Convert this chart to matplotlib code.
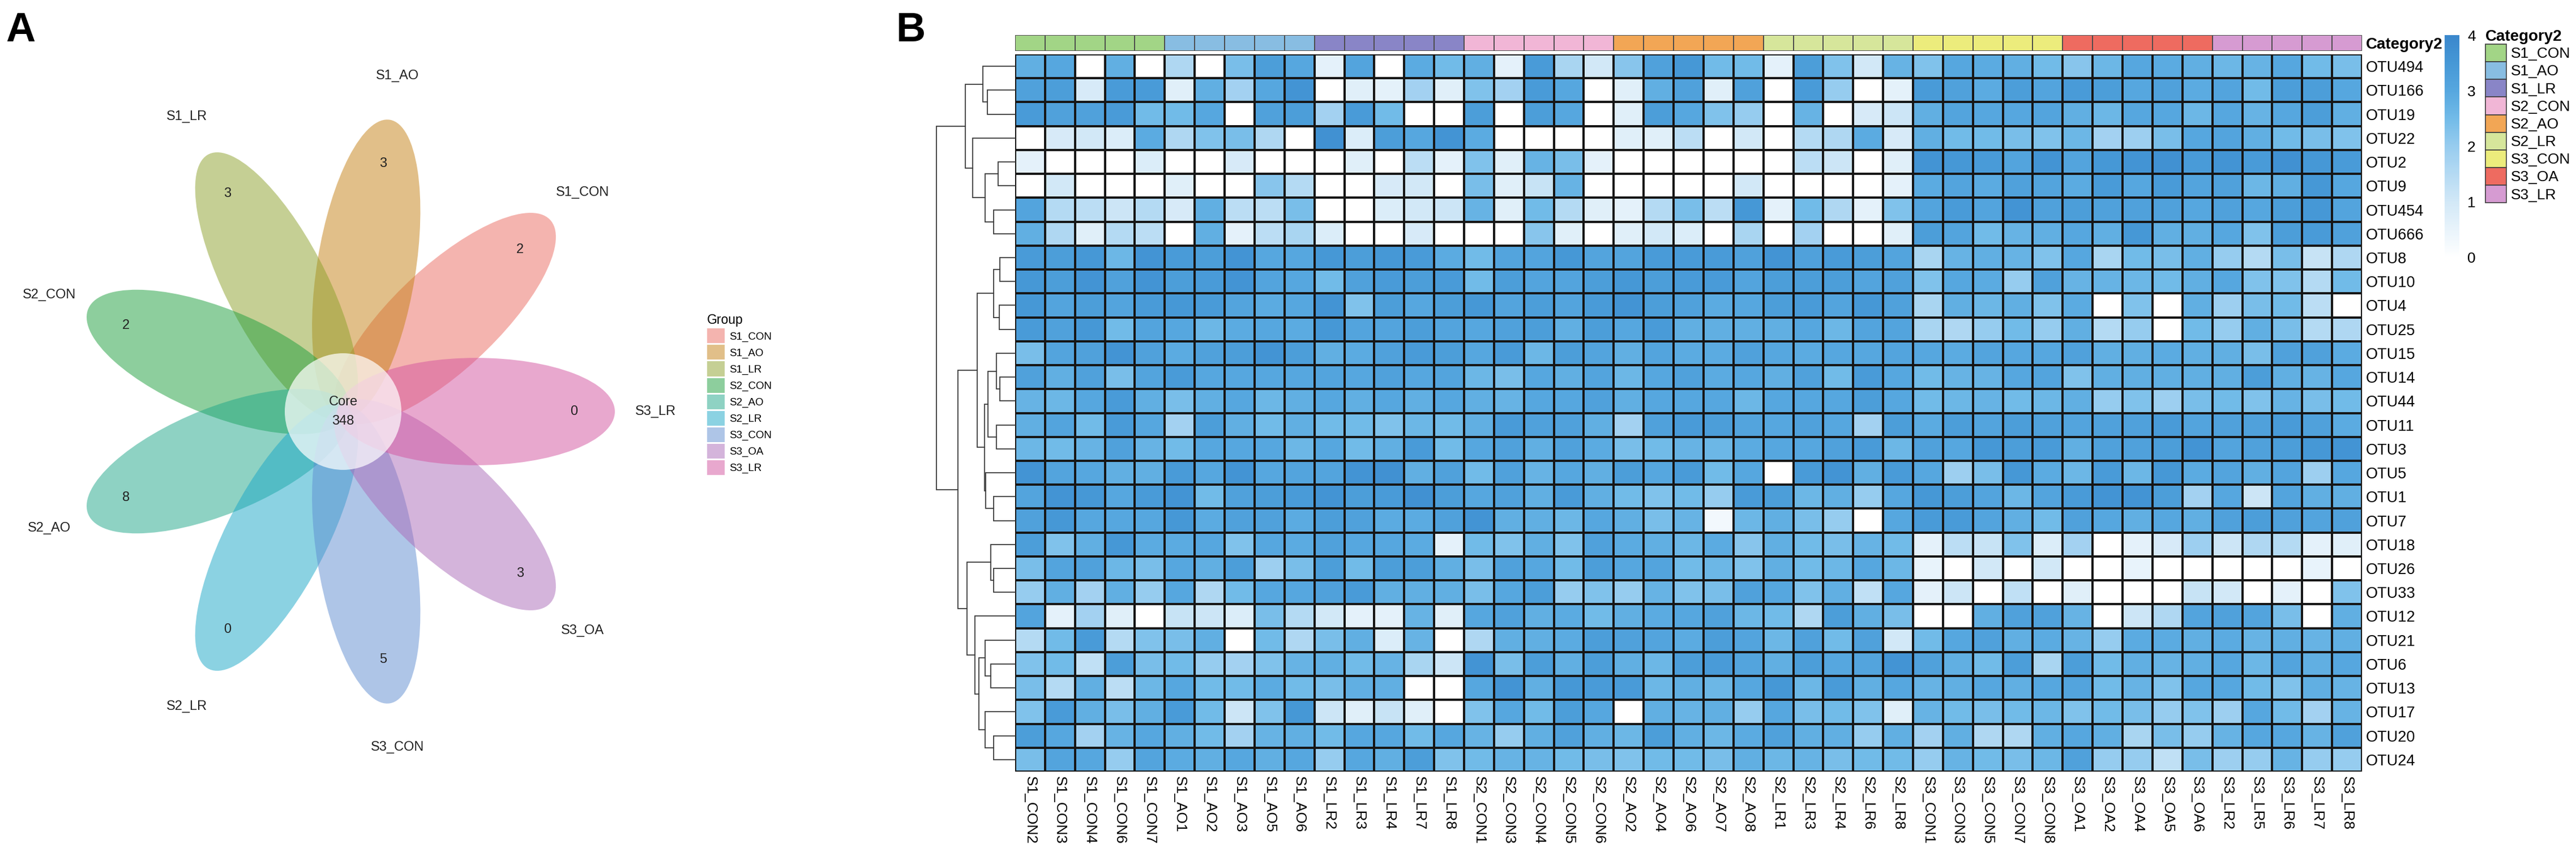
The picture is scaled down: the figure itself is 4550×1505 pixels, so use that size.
import numpy as np
import matplotlib
matplotlib.use("Agg")
import matplotlib.pyplot as plt
from matplotlib.patches import Ellipse, Patch
from matplotlib.colors import LinearSegmentedColormap, ListedColormap, Normalize
import matplotlib.cm as cm

plt.rcParams['font.family'] = ['Liberation Sans', 'DejaVu Sans']

# ---------------- Panel A data (flower plot) ----------------
groups = ['S1_CON', 'S1_AO', 'S1_LR', 'S2_CON', 'S2_AO', 'S2_LR', 'S3_CON', 'S3_OA', 'S3_LR']
unique_otus = [2, 3, 3, 2, 8, 0, 5, 3, 0]
core_otus = 348
petal_colors = ['#eb6b61', '#c58115', '#8da12b', '#1d9f3d', '#1fa789',
                '#19a7c7', '#5f8dd1', '#ab6bb9', '#d3539f']

# ---------------- Panel B data (heatmap) ----------------
otus = ['OTU494', 'OTU166', 'OTU19', 'OTU22', 'OTU2', 'OTU9', 'OTU454', 'OTU666',
        'OTU8', 'OTU10', 'OTU4', 'OTU25', 'OTU15', 'OTU14', 'OTU44', 'OTU11', 'OTU3',
        'OTU5', 'OTU1', 'OTU7', 'OTU18', 'OTU26', 'OTU33', 'OTU12', 'OTU21', 'OTU6',
        'OTU13', 'OTU17', 'OTU20', 'OTU24']
samples = ['S1_CON2', 'S1_CON3', 'S1_CON4', 'S1_CON6', 'S1_CON7',
           'S1_AO1', 'S1_AO2', 'S1_AO3', 'S1_AO5', 'S1_AO6',
           'S1_LR2', 'S1_LR3', 'S1_LR4', 'S1_LR7', 'S1_LR8',
           'S2_CON1', 'S2_CON3', 'S2_CON4', 'S2_CON5', 'S2_CON6',
           'S2_AO2', 'S2_AO4', 'S2_AO6', 'S2_AO7', 'S2_AO8',
           'S2_LR1', 'S2_LR3', 'S2_LR4', 'S2_LR6', 'S2_LR8',
           'S3_CON1', 'S3_CON3', 'S3_CON5', 'S3_CON7', 'S3_CON8',
           'S3_OA1', 'S3_OA2', 'S3_OA4', 'S3_OA5', 'S3_OA6',
           'S3_LR2', 'S3_LR5', 'S3_LR6', 'S3_LR7', 'S3_LR8']
category_colors = ['#a2d586', '#88bde2', '#8985c7', '#f1b6d6', '#f2a655',
                   '#d6e69b', '#ecec7c', '#ee6b60', '#d69bd2']

# abundance per OTU (rows) for the S1 samples
s1_values = [
    [2.8, 3.0, 0, 2.8, 0, 1.6, 0, 2.4, 3.3, 3.0, 0.6, 3.1, 0, 2.9, 2.5],
    [3.2, 3.3, 0.9, 3.4, 3.4, 0.7, 2.8, 1.8, 3.0, 3.6, 0, 0.7, 0.6, 1.8, 0.7],
    [3.4, 3.2, 3.2, 3.4, 2.5, 2.5, 3.0, 0, 3.2, 3.3, 1.8, 3.4, 2.5, 0, 0],
    [0, 0.9, 1.0, 0.8, 2.9, 1.6, 2.3, 2.4, 1.6, 0, 3.7, 0.8, 3.3, 3.0, 3.6],
    [0.6, 0, 0, 0, 0.8, 0, 0, 0.9, 0, 0, 0, 0.7, 0, 1.4, 0.6],
    [0, 1.0, 0, 0, 0, 0.7, 0, 0, 2.2, 1.5, 0, 0, 0.9, 1.0, 0],
    [3.1, 1.5, 1.4, 1.1, 1.5, 0.9, 2.8, 1.4, 1.4, 2.4, 0, 0, 0.8, 1.0, 1.1],
    [2.8, 1.6, 0.7, 1.5, 1.4, 0, 2.8, 0.6, 1.4, 1.7, 0.8, 0, 0, 0.9, 0],
    [3.4, 3.3, 3.5, 2.6, 3.6, 3.4, 3.3, 3.6, 3.0, 3.0, 3.5, 3.3, 3.5, 3.4, 2.9],
    [3.5, 3.3, 3.6, 3.2, 3.6, 3.3, 3.4, 3.6, 3.1, 3.0, 2.5, 3.2, 3.4, 3.3, 3.4],
    [3.5, 3.1, 3.3, 3.1, 3.4, 3.5, 3.4, 3.1, 2.9, 3.0, 3.6, 2.3, 3.3, 3.0, 3.3],
    [3.4, 3.2, 3.5, 2.5, 3.1, 3.0, 2.6, 2.9, 3.0, 2.9, 3.5, 3.1, 3.1, 3.3, 3.1],
    [2.4, 3.1, 3.2, 3.6, 3.2, 2.9, 3.2, 3.3, 3.6, 3.3, 2.8, 2.9, 3.2, 3.4, 3.3],
    [3.2, 2.8, 3.2, 2.4, 3.1, 3.4, 3.0, 3.0, 3.0, 3.0, 3.1, 3.0, 3.2, 3.0, 3.1],
    [2.7, 2.6, 3.0, 3.4, 2.8, 2.4, 2.8, 3.0, 2.6, 2.8, 3.0, 2.8, 3.0, 2.8, 3.0],
    [2.8, 3.1, 2.5, 3.4, 3.0, 1.8, 3.3, 2.8, 2.5, 2.8, 2.5, 2.5, 2.3, 2.6, 2.5],
    [2.6, 2.5, 2.7, 3.2, 2.7, 2.5, 3.0, 3.0, 3.0, 2.6, 3.0, 2.5, 2.8, 3.4, 2.5],
    [3.6, 3.1, 3.0, 2.8, 2.8, 3.4, 3.0, 3.6, 3.0, 3.1, 3.1, 3.6, 3.7, 2.8, 3.2],
    [3.1, 3.6, 3.5, 3.0, 3.4, 3.6, 2.5, 3.2, 3.3, 3.4, 3.6, 3.3, 3.4, 3.7, 3.3],
    [3.2, 3.5, 3.0, 3.0, 3.0, 3.5, 2.9, 3.2, 3.2, 2.9, 3.3, 3.2, 2.9, 2.9, 3.2],
    [3.3, 2.3, 2.8, 3.5, 2.9, 2.9, 3.0, 2.3, 3.0, 2.9, 3.2, 3.0, 3.0, 2.9, 0.6],
    [2.4, 3.1, 3.2, 2.6, 2.4, 3.0, 2.8, 3.3, 1.9, 2.4, 3.3, 2.5, 3.3, 3.3, 2.8],
    [2.0, 2.8, 1.8, 2.8, 2.0, 3.0, 1.6, 2.5, 3.0, 3.0, 3.2, 3.4, 2.8, 2.8, 2.8],
    [3.1, 0.6, 1.8, 0.7, 0, 1.2, 1.1, 0.8, 2.4, 1.5, 1.0, 0.6, 0.6, 2.7, 0.7],
    [1.5, 2.5, 3.4, 1.5, 2.3, 2.4, 2.8, 0, 2.5, 1.6, 2.4, 2.8, 0.8, 2.7, 0],
    [2.3, 2.5, 1.3, 3.3, 2.4, 2.5, 2.0, 1.8, 2.3, 2.7, 2.8, 2.5, 2.7, 1.7, 1.1],
    [2.4, 1.5, 2.8, 1.4, 2.6, 3.0, 2.5, 2.5, 2.9, 2.5, 2.4, 2.8, 2.8, 0, 0],
    [2.3, 3.4, 2.8, 2.4, 2.8, 3.4, 2.5, 1.1, 2.3, 3.5, 1.1, 0.7, 1.2, 0.7, 0],
    [3.3, 3.0, 1.8, 2.7, 3.0, 2.8, 2.5, 1.8, 2.7, 2.8, 2.5, 3.0, 3.0, 2.5, 3.0],
    [2.4, 3.1, 3.0, 2.0, 3.1, 2.9, 2.8, 3.0, 2.8, 3.0, 2.0, 3.0, 2.8, 3.3, 2.3],
]

# abundance per OTU (rows) for the S2 samples
s2_values = [
    [2.8, 0.6, 3.4, 1.7, 1.0, 2.2, 3.2, 3.5, 2.5, 2.5, 0.6, 3.3, 2.3, 1.0, 2.7],
    [2.3, 1.8, 3.4, 3.0, 0, 0.7, 2.8, 3.2, 0.7, 3.2, 0, 3.4, 2.0, 0, 0.6],
    [3.3, 0, 3.3, 3.0, 0, 0.7, 3.3, 3.0, 2.3, 2.0, 0, 2.7, 0, 0.9, 1.1],
    [2.9, 0, 0, 0, 0, 0.7, 0.7, 1.4, 0, 1.0, 0, 1.5, 1.6, 2.9, 0.9],
    [2.3, 0.7, 2.7, 2.4, 0.6, 0, 0, 0, 0, 0, 0, 1.4, 1.1, 0, 0.7],
    [2.4, 0.7, 1.2, 2.7, 0, 0, 0, 0, 0, 1.0, 0, 0, 0, 0, 0.6],
    [2.7, 0.7, 2.5, 1.5, 0.7, 0.6, 1.5, 2.4, 1.4, 3.5, 0.6, 2.5, 1.6, 0.6, 2.3],
    [0, 0, 2.2, 0.7, 0, 0.7, 1.0, 0.8, 0, 1.7, 0, 1.8, 0, 0, 0.7],
    [2.5, 3.1, 3.1, 3.5, 3.1, 3.1, 3.4, 3.4, 3.4, 3.2, 3.6, 3.2, 3.4, 3.3, 3.1],
    [2.5, 3.3, 3.1, 3.1, 3.3, 3.5, 3.3, 3.4, 3.4, 3.1, 3.3, 3.3, 3.3, 3.1, 3.2],
    [3.5, 3.1, 3.3, 3.1, 3.4, 3.6, 3.3, 3.2, 2.9, 3.0, 3.3, 3.4, 3.1, 3.5, 3.2],
    [3.0, 3.2, 3.3, 2.8, 3.3, 3.0, 3.4, 2.8, 2.8, 2.8, 2.8, 3.0, 2.6, 3.1, 3.1],
    [3.0, 3.4, 2.6, 3.3, 3.1, 2.8, 3.1, 2.9, 2.9, 3.2, 3.0, 2.9, 3.0, 3.0, 3.1],
    [2.6, 2.4, 3.0, 2.8, 3.1, 2.6, 3.0, 3.2, 2.9, 3.0, 2.8, 3.2, 2.5, 3.4, 3.0],
    [2.8, 2.7, 3.0, 3.0, 3.2, 2.8, 3.0, 3.0, 3.0, 2.6, 3.0, 3.0, 3.0, 3.3, 3.0],
    [2.8, 3.4, 3.2, 3.2, 2.8, 1.8, 3.2, 3.4, 3.3, 3.1, 3.0, 3.2, 3.0, 1.8, 3.3],
    [3.0, 3.2, 2.8, 3.2, 2.9, 2.4, 2.5, 2.7, 2.6, 2.9, 3.0, 3.0, 3.2, 3.4, 2.6],
    [2.5, 3.2, 2.7, 3.0, 2.8, 3.3, 3.0, 3.4, 2.5, 3.0, 0, 3.4, 3.6, 2.8, 3.4],
    [3.0, 3.2, 2.8, 3.4, 2.8, 2.5, 2.3, 2.5, 2.0, 3.4, 3.3, 2.6, 2.8, 2.0, 3.0],
    [3.6, 2.8, 2.8, 2.6, 3.0, 2.8, 2.4, 2.7, 0.3, 2.6, 2.8, 2.4, 2.0, 0, 3.0],
    [2.5, 2.3, 2.8, 2.3, 3.2, 2.9, 2.8, 2.6, 2.9, 2.2, 2.8, 2.5, 2.4, 2.7, 2.5],
    [2.4, 3.2, 3.0, 2.5, 3.3, 3.0, 3.1, 2.5, 2.6, 2.3, 2.8, 2.5, 2.6, 3.0, 2.6],
    [2.4, 3.0, 3.3, 2.0, 2.3, 2.0, 2.7, 2.3, 2.4, 3.2, 3.0, 2.3, 2.8, 1.3, 3.0],
    [3.0, 3.2, 2.8, 2.9, 2.5, 2.8, 2.9, 3.0, 3.2, 2.6, 2.5, 1.6, 3.3, 2.8, 2.4],
    [1.6, 2.8, 2.8, 2.9, 3.3, 3.2, 3.1, 2.9, 3.3, 3.1, 2.6, 3.2, 2.5, 3.2, 1.0],
    [3.6, 2.4, 3.3, 2.8, 3.3, 2.8, 2.6, 3.3, 3.4, 3.1, 2.8, 3.3, 3.0, 3.1, 3.6],
    [3.0, 3.6, 2.8, 3.5, 3.4, 3.4, 2.6, 2.8, 2.6, 3.0, 3.5, 2.6, 3.4, 2.8, 3.0],
    [2.3, 3.0, 2.5, 3.3, 3.0, 0, 2.8, 2.7, 2.8, 2.0, 3.0, 2.4, 2.5, 2.3, 0.7],
    [2.7, 2.0, 2.8, 3.2, 2.8, 2.6, 3.3, 2.8, 2.6, 2.9, 3.2, 2.8, 2.8, 2.0, 2.8],
    [2.5, 2.7, 2.7, 2.5, 2.4, 2.3, 2.5, 2.5, 2.4, 2.8, 2.6, 2.7, 2.4, 2.5, 2.5],
]

# abundance per OTU (rows) for the S3 samples
s3_values = [
    [2.3, 3.0, 2.9, 2.8, 2.5, 2.2, 2.6, 3.0, 2.9, 2.8, 2.6, 2.7, 3.0, 2.5, 2.4],
    [3.4, 3.2, 2.9, 3.3, 3.1, 3.4, 3.3, 3.0, 3.2, 2.9, 3.1, 2.5, 3.3, 3.3, 3.0],
    [2.8, 3.1, 3.0, 3.0, 3.1, 2.8, 2.6, 3.0, 3.0, 2.6, 3.0, 2.7, 3.0, 3.3, 2.8],
    [2.8, 2.5, 2.5, 2.4, 2.3, 2.6, 1.8, 1.9, 2.4, 3.0, 3.1, 2.8, 2.5, 2.4, 2.3],
    [3.6, 3.5, 3.4, 3.1, 3.6, 3.1, 3.5, 3.6, 3.7, 3.4, 3.6, 3.4, 3.7, 3.5, 3.4],
    [2.9, 3.1, 2.9, 3.2, 3.1, 2.9, 3.4, 3.0, 3.4, 3.1, 3.2, 2.6, 2.8, 3.5, 3.0],
    [3.1, 3.4, 3.1, 3.6, 3.2, 3.3, 3.2, 3.2, 3.2, 3.0, 3.2, 3.0, 3.3, 3.5, 3.1],
    [3.3, 3.1, 2.5, 2.7, 2.8, 3.0, 2.8, 3.5, 2.8, 2.8, 3.0, 2.3, 3.3, 3.4, 3.2],
    [1.7, 2.7, 2.8, 2.7, 2.3, 3.0, 1.7, 2.5, 2.4, 2.8, 2.0, 1.5, 2.4, 1.2, 1.6],
    [2.3, 3.0, 2.9, 2.0, 3.2, 2.7, 2.7, 2.6, 2.5, 2.8, 3.0, 2.3, 2.3, 1.5, 2.5],
    [1.7, 2.8, 2.6, 2.8, 2.3, 2.9, 0, 2.3, 0, 2.8, 1.9, 2.4, 2.5, 1.4, 0],
    [1.7, 1.6, 2.0, 2.5, 2.0, 2.8, 1.5, 2.0, 0, 2.5, 2.0, 2.8, 2.4, 1.5, 1.6],
    [3.0, 2.9, 3.1, 3.0, 3.0, 3.2, 2.8, 2.8, 2.9, 2.8, 2.8, 2.4, 3.2, 3.2, 2.9],
    [2.5, 2.7, 2.7, 3.0, 3.1, 2.3, 2.8, 2.8, 2.8, 2.8, 2.8, 3.3, 2.8, 2.7, 3.0],
    [2.5, 2.6, 2.7, 2.5, 2.6, 2.8, 2.0, 2.3, 1.9, 2.4, 2.5, 2.3, 2.7, 2.4, 2.5],
    [2.9, 3.3, 3.1, 3.3, 3.2, 3.1, 3.2, 3.2, 3.4, 3.1, 3.2, 3.2, 3.4, 3.2, 2.9],
    [3.2, 3.0, 3.5, 3.3, 3.4, 2.8, 3.2, 3.2, 3.3, 3.6, 3.1, 3.2, 3.3, 3.5, 3.6],
    [3.0, 1.9, 2.4, 3.5, 2.9, 2.6, 3.4, 2.6, 3.5, 2.9, 3.1, 2.8, 3.1, 1.9, 3.0],
    [3.5, 3.3, 3.1, 2.6, 3.1, 3.4, 3.6, 3.6, 3.3, 1.8, 3.0, 1.1, 3.1, 2.8, 2.8],
    [3.4, 3.4, 3.1, 2.8, 2.5, 3.2, 3.0, 2.8, 3.0, 2.8, 3.2, 3.3, 3.2, 3.1, 3.2],
    [0.6, 1.4, 1.2, 2.3, 0.8, 1.8, 0, 0.6, 0.9, 1.9, 1.1, 1.6, 1.5, 0.6, 0.7],
    [0.5, 0, 1.0, 0, 1.0, 0, 0, 0.5, 0, 0, 0, 0, 0, 0.5, 0],
    [0.6, 1.1, 0, 1.3, 0, 0.7, 0, 0, 0, 1.2, 1.0, 0, 0.6, 0, 2.3],
    [0, 0, 2.8, 3.2, 3.2, 2.7, 0, 1.1, 1.6, 3.1, 3.2, 3.1, 2.4, 0, 2.8],
    [2.5, 3.0, 3.2, 2.8, 2.9, 2.7, 2.0, 2.9, 2.9, 2.8, 2.9, 2.7, 2.8, 2.7, 2.8],
    [3.2, 2.8, 2.5, 3.3, 1.7, 3.3, 2.5, 2.8, 2.7, 2.8, 3.0, 2.6, 3.1, 2.8, 3.0],
    [2.7, 2.8, 3.0, 2.8, 3.0, 3.1, 2.5, 2.7, 2.3, 3.0, 3.0, 2.5, 2.3, 2.8, 2.7],
    [2.7, 2.5, 2.4, 2.5, 2.6, 2.3, 2.5, 2.4, 2.0, 2.3, 1.9, 3.0, 2.5, 1.8, 2.7],
    [1.8, 2.8, 1.6, 1.6, 2.8, 3.0, 2.8, 1.7, 2.4, 2.0, 2.7, 3.0, 3.0, 2.7, 3.2],
    [2.0, 2.7, 2.5, 2.4, 2.6, 3.2, 2.0, 2.0, 1.3, 2.4, 1.9, 2.0, 2.7, 2.0, 2.0],
]

# row clustering: (left, right, height); leaves are 0..29, new nodes get 30, 31, ...
row_merges = [
    (1, 2, 148), (0, 30, 170), (4, 5, 90), (6, 7, 115), (32, 33, 160),
    (3, 34, 225), (31, 35, 265), (8, 9, 80), (10, 11, 85), (37, 38, 115),
    (13, 14, 80), (12, 40, 100), (15, 16, 100), (41, 42, 145), (18, 19, 115),
    (17, 44, 155), (43, 45, 162), (39, 46, 202), (21, 22, 115), (20, 48, 130),
    (25, 26, 130), (24, 50, 160), (28, 29, 115), (27, 52, 160), (51, 53, 192),
    (23, 54, 215), (49, 55, 255), (47, 56, 305), (36, 57, 418),
]

W, H = 4550, 1505
fig = plt.figure(figsize=(W / 100, H / 100), dpi=100)


def px_axes(x0, y0, x1, y1):
    return fig.add_axes([x0 / W, 1 - y1 / H, (x1 - x0) / W, (y1 - y0) / H])


# ================= Panel A: flower =================
cx, cy, stretch = 606, 727, 1.09
ax_a = px_axes(0, 0, 1500, H)
ax_a.set_xlim(-cx, 1500 - cx)
ax_a.set_ylim(-(H - cy) / stretch, cy / stretch)
ax_a.axis('off')

petal_a, petal_b, petal_d = 245, 87, 235
for i, (g, n, col) in enumerate(zip(groups, unique_otus, petal_colors)):
    ang = np.deg2rad(40 + 40 * i)
    ax_a.add_patch(Ellipse((petal_d * np.cos(ang), petal_d * np.sin(ang)),
                           2 * petal_a, 2 * petal_b, angle=np.rad2deg(ang),
                           facecolor=col, alpha=0.5, edgecolor='none'))
    ax_a.text(408 * np.cos(ang), 408 * np.sin(ang), str(n), fontsize=17,
              ha='center', va='center', color='#222222')
    ax_a.text(552 * np.cos(ang), 552 * np.sin(ang), g, fontsize=17,
              ha='center', va='center', color='#222222')

ax_a.add_patch(Ellipse((0, 0), 206, 206 / stretch, facecolor='white',
                       alpha=0.7, edgecolor='none'))
ax_a.text(0, 16, 'Core', fontsize=17, ha='center', va='center', color='#222222')
ax_a.text(0, -16, str(core_otus), fontsize=17, ha='center', va='center', color='#222222')

handles_a = [Patch(facecolor=c, alpha=0.5, edgecolor='none') for c in petal_colors]
leg_a = ax_a.legend(handles_a, groups, title='Group', loc='upper left',
                    bbox_to_anchor=(1240 / W, 1 - 545 / H), bbox_transform=fig.transFigure,
                    frameon=False, fontsize=13.5, title_fontsize=16.5, borderpad=0,
                    handlelength=1.65, handleheight=1.76, labelspacing=0.16,
                    handletextpad=0.4, alignment='left')

fig.text(10 / W, 1 - 20 / H, 'A', fontsize=52, fontweight='bold', ha='left', va='top')
fig.text(1582 / W, 1 - 20 / H, 'B', fontsize=52, fontweight='bold', ha='left', va='top')

# ================= Panel B: heatmap =================
values = np.hstack([np.array(s1_values), np.array(s2_values), np.array(s3_values)])
heat_cmap = LinearSegmentedColormap.from_list('otu_blue', [
    (0.0, '#ffffff'), (0.25, '#d2e8f7'), (0.5, '#97ccef'), (0.625, '#72bbe8'),
    (0.75, '#56a7df'), (0.875, '#4698d6'), (1.0, '#3a87cc')])
norm = Normalize(vmin=0, vmax=4)

hm_x0, hm_y0, hm_x1, hm_y1 = 1793, 96, 4172, 1363
ax_hm = px_axes(hm_x0, hm_y0, hm_x1, hm_y1)
ax_hm.pcolormesh(values, cmap=heat_cmap, norm=norm, edgecolors='#161616', linewidth=1.6)
ax_hm.set_xlim(0, len(samples))
ax_hm.set_ylim(len(otus), 0)
ax_hm.set_xticks(np.arange(len(samples)) + 0.5)
ax_hm.set_xticklabels(samples, rotation=270, fontsize=19)
ax_hm.set_yticks(np.arange(len(otus)) + 0.5)
ax_hm.set_yticklabels(otus, fontsize=19.5)
ax_hm.yaxis.tick_right()
ax_hm.tick_params(length=0)
ax_hm.tick_params(axis='x', pad=6)
ax_hm.tick_params(axis='y', pad=5)
for s in ax_hm.spines.values():
    s.set_visible(False)

# category annotation bar
sample_groups = [s.rstrip('0123456789') for s in samples]
cat_idx = np.array([[groups.index(g) for g in sample_groups]])
ax_cat = px_axes(hm_x0, 62, hm_x1, 90)
ax_cat.pcolormesh(cat_idx, cmap=ListedColormap(category_colors), vmin=-0.5, vmax=8.5,
                  edgecolors='#4d4d4d', linewidth=1.2)
ax_cat.set_xlim(0, len(samples))
ax_cat.set_xticks([])
ax_cat.set_yticks([0.5])
ax_cat.set_yticklabels(['Category2'], fontsize=20, fontweight='bold')
ax_cat.yaxis.tick_right()
ax_cat.tick_params(length=0, pad=5)
for s in ax_cat.spines.values():
    s.set_visible(False)

# row dendrogram
ax_den = px_axes(1654, hm_y0, hm_x0, hm_y1)
n_leaf = len(otus)
node_pos = {i: (i + 0.5, 0.0) for i in range(n_leaf)}
for k, (l, r, h) in enumerate(row_merges):
    yl, hl = node_pos[l]
    yr, hr = node_pos[r]
    ax_den.plot([hl, h, h, hr], [yl, yl, yr, yr], color='#3a3a3a', lw=1.3,
                solid_joinstyle='miter', clip_on=False)
    node_pos[n_leaf + k] = ((yl + yr) / 2, h)
ax_den.set_xlim(row_merges[-1][2], 0)
ax_den.set_ylim(n_leaf, 0)
ax_den.axis('off')

# colour bar
cax = px_axes(4318, 62, 4344, 455)
cbar = fig.colorbar(cm.ScalarMappable(norm=norm, cmap=heat_cmap), cax=cax, ticks=[0, 1, 2, 3, 4])
cbar.outline.set_visible(False)
cax.tick_params(length=0, labelsize=19, pad=10)

# category legend
handles_b = [Patch(facecolor=c, edgecolor='#3d3d3d', linewidth=1.2) for c in category_colors]
fig.legend(handles_b, groups, title='Category2', loc='upper left',
           bbox_to_anchor=(4390 / W, 1 - 52 / H), frameon=False, fontsize=19,
           title_fontproperties={'weight': 'bold', 'size': 20}, borderpad=0,
           handlelength=1.4, handleheight=1.44, labelspacing=0.0,
           handletextpad=0.3, alignment='left', borderaxespad=0)

fig.savefig('out.png', dpi=100)
